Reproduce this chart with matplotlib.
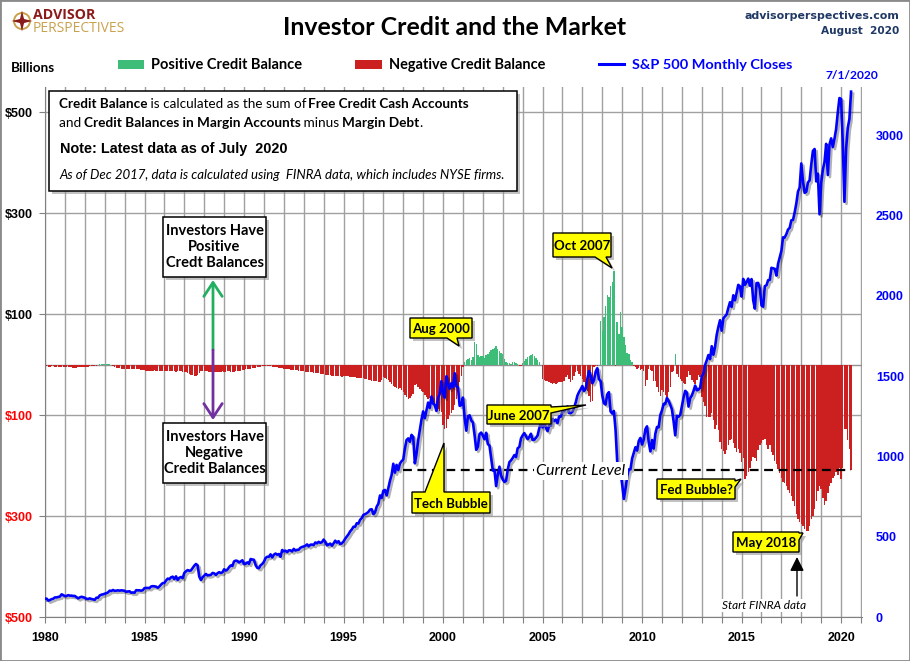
import numpy as np
import matplotlib
matplotlib.use('Agg')
import matplotlib.pyplot as plt
import matplotlib.patheffects as pe
from matplotlib.patches import Rectangle, Polygon, Circle, FancyArrowPatch
from matplotlib.lines import Line2D

# --- data (monthly, Jan 1980 .. Jul 2020) ---
START_YEAR = 1980

# investor credit balance, $ billions
credit_balance = [
    -3, -3, -4, -4, -3, -3, -4, -4, -5, -5, -5, -5,              # 1980
    -5, -5, -4, -5, -5, -6, -6, -6, -5, -5, -5, -5,              # 1981
    -4, -4, -4, -3, -3, -3, -2, -2, -1, 2, 2, 2,                 # 1982
    2, 2, 1, 1, -1, -3, -5, -6, -6, -7, -8, -8,                  # 1983
    -8, -8, -9, -9, -8, -8, -8, -9, -9, -9, -10, -10,            # 1984
    -10, -13, -13, -12, -12, -12, -11, -12, -12, -12, -13, -13,  # 1985
    -13, -12, -13, -12, -12, -13, -12, -14, -13, -12, -13, -14,  # 1986
    -14, -15, -16, -18, -20, -21, -22, -22, -20, -16, -13, -12,  # 1987
    -12, -13, -13, -14, -14, -15, -15, -15, -14, -14, -14, -13,  # 1988
    -14, -14, -13, -13, -14, -14, -14, -12, -13, -12, -12, -11,  # 1989
    -10, -9, -8, -8, -8, -7, -7, -6, -5, -4, -4, -3,             # 1990
    -2, -2, -2, -3, -3, -4, -4, -5, -5, -6, -6, -7,              # 1991
    -8, -8, -9, -9, -10, -10, -10, -11, -11, -12, -12, -13,      # 1992
    -13, -14, -14, -15, -15, -15, -16, -16, -17, -17, -18, -18,  # 1993
    -19, -20, -20, -21, -21, -22, -22, -22, -23, -23, -23, -24,  # 1994
    -22, -22, -23, -23, -24, -24, -25, -25, -26, -26, -27, -27,  # 1995
    -27, -28, -29, -30, -31, -32, -33, -32, -33, -34, -35, -30,  # 1996
    -24, -26, -28, -30, -34, -38, -42, -44, -46, -48, -46, -50,  # 1997
    -55, -60, -65, -68, -66, -62, -58, -40, -38, -45, -48, -52,  # 1998
    -55, -60, -65, -68, -66, -70, -75, -80, -85, -88, -92, -94,  # 1999
    -120, -128, -125, -107, -100, -95, -90, -80, -68, -48, -35, -22,  # 2000
    -4, 6, 10, 12, 14, 10, 16, 45, 40, 20, 15, 18,               # 2001
    18, 14, 20, 22, 25, 28, 30, 33, 36, 30, 26, 24,              # 2002
    22, 12, 6, 4, 3, 2, 5, 6, 4, 2, -2, -3,                      # 2003
    4, 8, 12, 15, 18, 20, 22, 18, 14, 10, 5, 0,                  # 2004
    -28, -30, -32, -33, -35, -36, -38, -36, -38, -36, -35, -34,  # 2005
    -35, -32, -25, -20, -28, -35, -30, -22, -15, -12, -18, -22,  # 2006
    -28, -35, -42, -52, -62, -75, -72, -5, -3, -2, -1, 87,       # 2007
    67, 94, 117, 137, 133, 156, 163, 186, -2, 84, 60, 104,       # 2008
    74, 54, 38, 24, 21, 10, 5, -3, -5, -8, -6, -10,              # 2009
    -8, -12, -42, -30, -9, -10, -12, -33, -33, -45, -55, -62,    # 2010
    -50, -55, -60, -65, -55, -45, -15, -12, 22, -18, -24, -28,   # 2011
    -32, -36, -38, -25, -12, -20, -30, -35, -38, -30, -20, -25,  # 2012
    -65, -75, -81, -104, -104, -104, -95, -110, -127, -120, -130, -154,  # 2013
    -167, -172, -177, -170, -160, -150, -147, -155, -165, -174, -167, -175,  # 2014
    -193, -185, -226, -220, -213, -205, -190, -183, -185, -190, -170, -160,  # 2015
    -155, -150, -147, -160, -167, -160, -174, -180, -190, -197, -207, -215,  # 2016
    -225, -233, -235, -240, -248, -255, -260, -270, -280, -295, -305, -312,  # 2017
    -315, -320, -325, -329, -330, -320, -306, -300, -286, -270, -250, -240,  # 2018
    -246, -265, -279, -270, -255, -240, -235, -225, -220, -213, -218, -205,  # 2019
    -226, -205, -127, -127, -150, -167, -208,                    # 2020
]

# S&P 500 monthly closes
sp500_closes = [
    114, 114, 102, 106, 111, 114, 122, 122, 125, 127, 141, 136,             # 1980
    130, 131, 136, 133, 133, 131, 131, 123, 116, 122, 126, 123,             # 1981
    120, 113, 112, 116, 112, 110, 107, 120, 120, 134, 139, 141,             # 1982
    145, 148, 153, 164, 162, 168, 163, 164, 166, 164, 166, 165,             # 1983
    163, 157, 159, 160, 151, 153, 151, 167, 166, 166, 164, 167,             # 1984
    180, 181, 181, 180, 190, 192, 191, 189, 182, 190, 202, 211,             # 1985
    212, 227, 239, 236, 247, 251, 236, 253, 231, 244, 249, 242,             # 1986
    274, 284, 292, 288, 290, 304, 319, 330, 322, 252, 230, 247,             # 1987
    257, 268, 259, 261, 262, 274, 272, 262, 272, 279, 274, 278,             # 1988
    297, 289, 295, 310, 321, 318, 346, 351, 349, 340, 346, 353,             # 1989
    329, 332, 340, 331, 361, 358, 356, 323, 306, 304, 322, 330,             # 1990
    344, 367, 375, 375, 390, 371, 388, 395, 388, 392, 375, 417,             # 1991
    409, 413, 404, 415, 415, 408, 424, 414, 418, 419, 431, 436,             # 1992
    439, 443, 452, 440, 450, 451, 448, 464, 459, 468, 462, 466,             # 1993
    482, 467, 446, 451, 457, 444, 458, 475, 463, 472, 454, 459,             # 1994
    470, 487, 501, 515, 533, 545, 562, 562, 584, 582, 605, 616,             # 1995
    636, 640, 646, 654, 669, 671, 640, 652, 687, 705, 757, 741,             # 1996
    786, 791, 757, 801, 848, 885, 954, 899, 947, 915, 955, 970,             # 1997
    980, 1049, 1102, 1112, 1091, 1134, 1121, 957, 1017, 1099, 1164, 1229,   # 1998
    1280, 1238, 1286, 1335, 1302, 1373, 1329, 1320, 1283, 1363, 1389, 1469, # 1999
    1394, 1366, 1499, 1452, 1421, 1455, 1431, 1518, 1437, 1429, 1315, 1320, # 2000
    1366, 1240, 1160, 1249, 1256, 1224, 1211, 1134, 1041, 1060, 1139, 1148, # 2001
    1130, 1107, 1147, 1077, 1067, 990, 912, 916, 815, 886, 936, 880,        # 2002
    856, 841, 848, 917, 964, 975, 990, 1008, 996, 1051, 1058, 1112,         # 2003
    1131, 1145, 1126, 1107, 1121, 1141, 1102, 1104, 1115, 1130, 1174, 1212, # 2004
    1181, 1204, 1181, 1157, 1192, 1191, 1234, 1220, 1229, 1207, 1249, 1248, # 2005
    1280, 1281, 1295, 1311, 1270, 1270, 1277, 1304, 1336, 1378, 1401, 1418, # 2006
    1438, 1407, 1421, 1482, 1531, 1503, 1455, 1474, 1527, 1549, 1481, 1468, # 2007
    1379, 1331, 1323, 1386, 1400, 1280, 1267, 1283, 1166, 969, 896, 903,    # 2008
    826, 735, 798, 873, 919, 919, 987, 1021, 1057, 1036, 1096, 1115,        # 2009
    1074, 1104, 1169, 1187, 1089, 1031, 1102, 1049, 1141, 1183, 1181, 1258, # 2010
    1286, 1327, 1326, 1364, 1345, 1321, 1292, 1219, 1131, 1253, 1247, 1258, # 2011
    1312, 1366, 1408, 1398, 1310, 1362, 1379, 1407, 1441, 1412, 1416, 1426, # 2012
    1498, 1515, 1569, 1598, 1631, 1606, 1686, 1633, 1682, 1757, 1806, 1848, # 2013
    1783, 1859, 1872, 1884, 1924, 1960, 1931, 2003, 1972, 2018, 2068, 2059, # 2014
    1995, 2105, 2068, 2086, 2107, 2063, 2104, 1972, 1920, 2079, 2080, 2044, # 2015
    1940, 1932, 2060, 2065, 2097, 2099, 2174, 2171, 2168, 2126, 2199, 2239, # 2016
    2279, 2364, 2363, 2384, 2412, 2423, 2470, 2472, 2519, 2575, 2648, 2674, # 2017
    2824, 2714, 2641, 2648, 2705, 2718, 2816, 2902, 2914, 2712, 2760, 2507, # 2018
    2704, 2784, 2834, 2946, 2752, 2942, 2980, 2926, 2977, 3038, 3141, 3231, # 2019
    3226, 2954, 2585, 2912, 3044, 3100, 3271,                               # 2020
]

left_ticks = [-500, -300, -100, 100, 300, 500]
left_labels = ['$500', '$300', '$100', '$100', '$300', '$500']
right_ticks = [0, 500, 1000, 1500, 2000, 2500, 3000]
year_labels = list(range(1980, 2021, 5))

GREEN = '#3dbd78'
RED = '#cc2020'
BLUE = '#0000ff'
NAVY = '#1f3864'
GRID = '#a0a0a0'

W, H = 910, 661


def fx(x):
    return x / W


def fy(y):
    return 1 - y / H


fig = plt.figure(figsize=(W / 100, H / 100), dpi=100)
renderer = fig.canvas.get_renderer()


def put(x, y, s, size, width=None, **kw):
    # text at pixel position; optionally scaled to a target pixel width
    kw.setdefault('zorder', 8)
    t = fig.text(fx(x), fy(y), s, fontsize=size, **kw)
    if width:
        w = t.get_window_extent(renderer).width
        t.set_fontsize(size * width / w)
    return t


def run_width(s, size, **kw):
    a = fig.text(0, 0, s + '|', fontsize=size, **kw)
    b = fig.text(0, 0, '|', fontsize=size, **kw)
    w = a.get_window_extent(renderer).width - b.get_window_extent(renderer).width
    a.remove()
    b.remove()
    return w


def rich_line(x, y, runs, size, width, family):
    widths = [run_width(s, size, family=family, **st) for s, st in runs]
    scale = width / sum(widths)
    for (s, st), w in zip(runs, widths):
        fig.text(fx(x), fy(y), s, fontsize=size * scale, family=family,
                 va='baseline', zorder=8, **st)
        x += w * scale


def box(x0, y0, x1, y1, face='white', shadow=3):
    fig.add_artist(Rectangle((fx(x0 + shadow), fy(y1 + shadow)), (x1 - x0) / W, (y1 - y0) / H,
                             transform=fig.transFigure, facecolor='#909090',
                             edgecolor='none', alpha=0.55, zorder=5))
    fig.add_artist(Rectangle((fx(x0), fy(y1)), (x1 - x0) / W, (y1 - y0) / H,
                             transform=fig.transFigure, facecolor=face,
                             edgecolor='black', lw=1.1, zorder=6))


def callout(x0, y0, x1, y1, text, edge, a, b, tip, size=9.5):
    pts = [(x0, y0)]
    if edge == 'top':
        pts += [(a, y0), tip, (b, y0)]
    pts.append((x1, y0))
    if edge == 'right':
        pts += [(x1, a), tip, (x1, b)]
    pts.append((x1, y1))
    if edge == 'bottom':
        pts += [(b, y1), tip, (a, y1)]
    pts.append((x0, y1))
    sh = [(fx(px + 3), fy(py + 3)) for px, py in pts]
    fig.add_artist(Polygon(sh, closed=True, transform=fig.transFigure,
                           facecolor='#909090', edgecolor='none', alpha=0.55, zorder=5))
    fig.add_artist(Polygon([(fx(px), fy(py)) for px, py in pts], closed=True,
                           transform=fig.transFigure, facecolor='#ffff00',
                           edgecolor='black', lw=1.0, zorder=6))
    put((x0 + x1) / 2, (y0 + y1) / 2 + 1, text, size, family='Lato',
        fontweight='bold', ha='center', va='center')


# --- main axes: credit balance bars ---
ax = fig.add_axes([fx(45), fy(617), (862 - 45) / W, (617 - 87) / H])
credit = np.array(credit_balance, dtype=float)
x_credit = START_YEAR + np.arange(len(credit)) / 12
bar_colors = np.where(credit >= 0, GREEN, RED)
ax.bar(x_credit, credit, width=0.072, color=bar_colors, linewidth=0, zorder=2)

ax.set_xlim(1980, 2021.05)
ax.set_ylim(-500, 550)
ax.set_xticks(range(1980, 2022))
ax.set_xticklabels([str(y) if y in year_labels else '' for y in range(1980, 2022)])
ax.set_yticks(left_ticks)
ax.set_yticklabels(left_labels)
for lbl, v in zip(ax.get_yticklabels(), left_ticks):
    lbl.set_color('#ff0000' if v < 0 else 'black')
for lbl in ax.get_xticklabels() + ax.get_yticklabels():
    lbl.set_fontfamily('Liberation Sans')
    lbl.set_fontweight('bold')
    lbl.set_fontsize(9)
ax.tick_params(axis='y', length=4, color='#808080', pad=5)
ax.tick_params(axis='x', length=4, color='#808080', pad=7)
ax.grid(True, color=GRID, lw=1.0, zorder=0)
ax.set_axisbelow(True)
ax.axhline(0, color='#909090', lw=1.0, zorder=1)
for s in ['top', 'right']:
    ax.spines[s].set_visible(False)
for s in ['left', 'bottom']:
    ax.spines[s].set_color('#808080')

# current level line, from the latest credit balance
ax.plot([1998.0, x_credit[-1]], [credit[-1], credit[-1]], color='black',
        lw=1.6, dashes=(4, 2.5), zorder=3)

# --- S&P 500 on the right axis ---
ax2 = ax.twinx()
x_sp = START_YEAR + np.arange(len(sp500_closes)) / 12
ax2.plot(x_sp, sp500_closes, color=BLUE, lw=1.9,
         path_effects=[pe.SimpleLineShadow(offset=(1.5, -1.5), shadow_color='black', alpha=0.3),
                       pe.Normal()])
ax2.set_ylim(0, 3300)
ax2.set_yticks(right_ticks)
ax2.set_yticklabels([str(v) for v in right_ticks], color=BLUE,
                    fontfamily='Liberation Sans', fontweight='bold', fontsize=9)
ax2.tick_params(axis='y', length=0, pad=10)
for s in ax2.spines.values():
    s.set_visible(False)

# --- header ---
fig.add_artist(Rectangle((0, 0), 1, 1, transform=fig.transFigure, fill=False,
                         edgecolor='#8a8a8a', lw=2, zorder=10))

lax = fig.add_axes([fx(11), fy(32), 22 / W, 22 / H])
lax.set_xlim(-1.1, 1.1)
lax.set_ylim(-1.1, 1.1)
lax.set_aspect('equal')
lax.axis('off')
lax.add_patch(Circle((0, 0), 0.8, fill=False, edgecolor='#c9a24e', lw=1.4))
lax.add_patch(Polygon([(0, 1.05), (0.2, 0.2), (1.05, 0), (0.2, -0.2), (0, -1.05),
                       (-0.2, -0.2), (-1.05, 0), (-0.2, 0.2)], closed=True,
                      facecolor='#8b1a1a', edgecolor='none'))
lax.add_patch(Circle((0, 0), 0.3, facecolor='#8b1a1a', edgecolor='none'))

put(33, 19, 'ADVISOR', 10, width=62, family='Open Sans', fontweight='bold',
    color='#8b1a1a', va='baseline')
put(33, 32.5, 'PERSPECTIVES', 10, width=92, family='Open Sans', color='#c9a24e',
    va='baseline')

put(455, 35, 'Investor Credit and the Market', 19, width=343, family='Lato',
    fontweight='bold', ha='center', va='baseline')
put(899, 19, 'advisorperspectives.com', 10, width=155, family='DejaVu Sans',
    fontweight='bold', color=NAVY, ha='right', va='baseline')
put(899, 34, 'August  2020', 10, width=78, family='DejaVu Sans',
    fontweight='bold', color=NAVY, ha='right', va='baseline')

# legend row
put(11, 72, 'Billions', 10, width=44, family='Lato', fontweight='bold', va='baseline')
fig.add_artist(Rectangle((fx(118), fy(69)), 26 / W, 9 / H, transform=fig.transFigure,
                         facecolor=GREEN, edgecolor='none'))
put(151, 69, 'Positive Credit Balance', 10, width=151, family='Lato',
    fontweight='bold', va='baseline')
fig.add_artist(Rectangle((fx(355), fy(69)), 27 / W, 9 / H, transform=fig.transFigure,
                         facecolor=RED, edgecolor='none'))
put(389, 69, 'Negative Credit Balance', 10, width=157, family='Lato',
    fontweight='bold', va='baseline')
fig.add_artist(Line2D([fx(599), fx(624)], [fy(64), fy(64)], transform=fig.transFigure,
                      color=BLUE, lw=2.2))
put(632, 69, 'S&P 500 Monthly Closes', 10, width=160, family='Lato',
    fontweight='bold', color=BLUE, va='baseline')
put(852, 79, '7/1/2020', 10, width=53, family='Lato', fontweight='bold',
    color=BLUE, ha='center', va='baseline')

# --- info box ---
box(49, 91, 517, 191)
B = {'fontweight': 'bold'}
N = {'fontweight': 'normal'}
rich_line(59, 108, [('Credit Balance', B), (' is calculated as the sum of ', N),
                    ('Free Credit Cash Accounts', B)], 10, 409, 'Lato')
rich_line(59, 127, [('and ', N), ('Credit Balances in Margin Accounts', B), (' minus ', N),
                    ('Margin Debt', B), ('.', N)], 10, 363, 'Lato')
put(60, 153, 'Note: Latest data as of July  2020', 10, width=227,
    family='Liberation Sans', fontweight='bold', va='baseline')
put(59, 179, 'As of Dec 2017, data is calculated using  FINRA data, which includes NYSE firms.',
    9, width=447, family='Lato', style='italic', va='baseline')

# --- positive / negative explanation ---
box(163, 217, 266, 277)
put(214.5, 247, 'Investors Have\nPositive\nCredt Balances', 10.5, family='Lato',
    fontweight='bold', ha='center', va='center', linespacing=1.2)
box(163, 423, 266, 483)
put(214.5, 453, 'Investors Have\nNegative\nCredit Balances', 10.5, family='Lato',
    fontweight='bold', ha='center', va='center', linespacing=1.2)
fig.add_artist(FancyArrowPatch((fx(213), fy(350)), (fx(213), fy(280)),
                               transform=fig.transFigure,
                               arrowstyle='->,head_length=0.5,head_width=0.33',
                               mutation_scale=20, color='#22b060', lw=2.0,
                               shrinkA=0, shrinkB=0, zorder=7))
fig.add_artist(FancyArrowPatch((fx(213), fy(350)), (fx(213), fy(420)),
                               transform=fig.transFigure,
                               arrowstyle='->,head_length=0.5,head_width=0.33',
                               mutation_scale=20, color='#7030a0', lw=2.0,
                               shrinkA=0, shrinkB=0, zorder=7))

# --- callouts ---
callout(410, 318, 472, 338, 'Aug 2000', 'bottom', 447, 457, (459, 346))
callout(553, 233, 611, 257, 'Oct 2007', 'bottom', 595, 606, (612, 268))
callout(487, 405, 551, 424, 'June 2007', 'right', 407, 413, (586, 405))
callout(412, 492, 490, 513, 'Tech Bubble', 'top', 425, 444, (444, 443))
callout(657, 479, 735, 499, 'Fed Bubble?', 'right', 481, 487, (741, 479))
callout(733, 532, 799, 552, 'May 2018', 'right', 533, 540, (803, 533))

put(581, 475, 'Current Level', 11.5, family='Lato', style='italic', ha='center',
    va='baseline', bbox=dict(facecolor='white', edgecolor='none', pad=1.5))

fig.add_artist(FancyArrowPatch((fx(797), fy(596)), (fx(797), fy(557)),
                               transform=fig.transFigure,
                               arrowstyle='-|>,head_length=0.7,head_width=0.35',
                               mutation_scale=12, color='black', lw=1.0,
                               shrinkA=0, shrinkB=0, zorder=7))
put(764, 609, 'Start FINRA data', 8.5, family='Lato', style='italic', ha='center',
    va='baseline', bbox=dict(facecolor='white', edgecolor='none', pad=1))

fig.savefig('out.png', dpi=100)
